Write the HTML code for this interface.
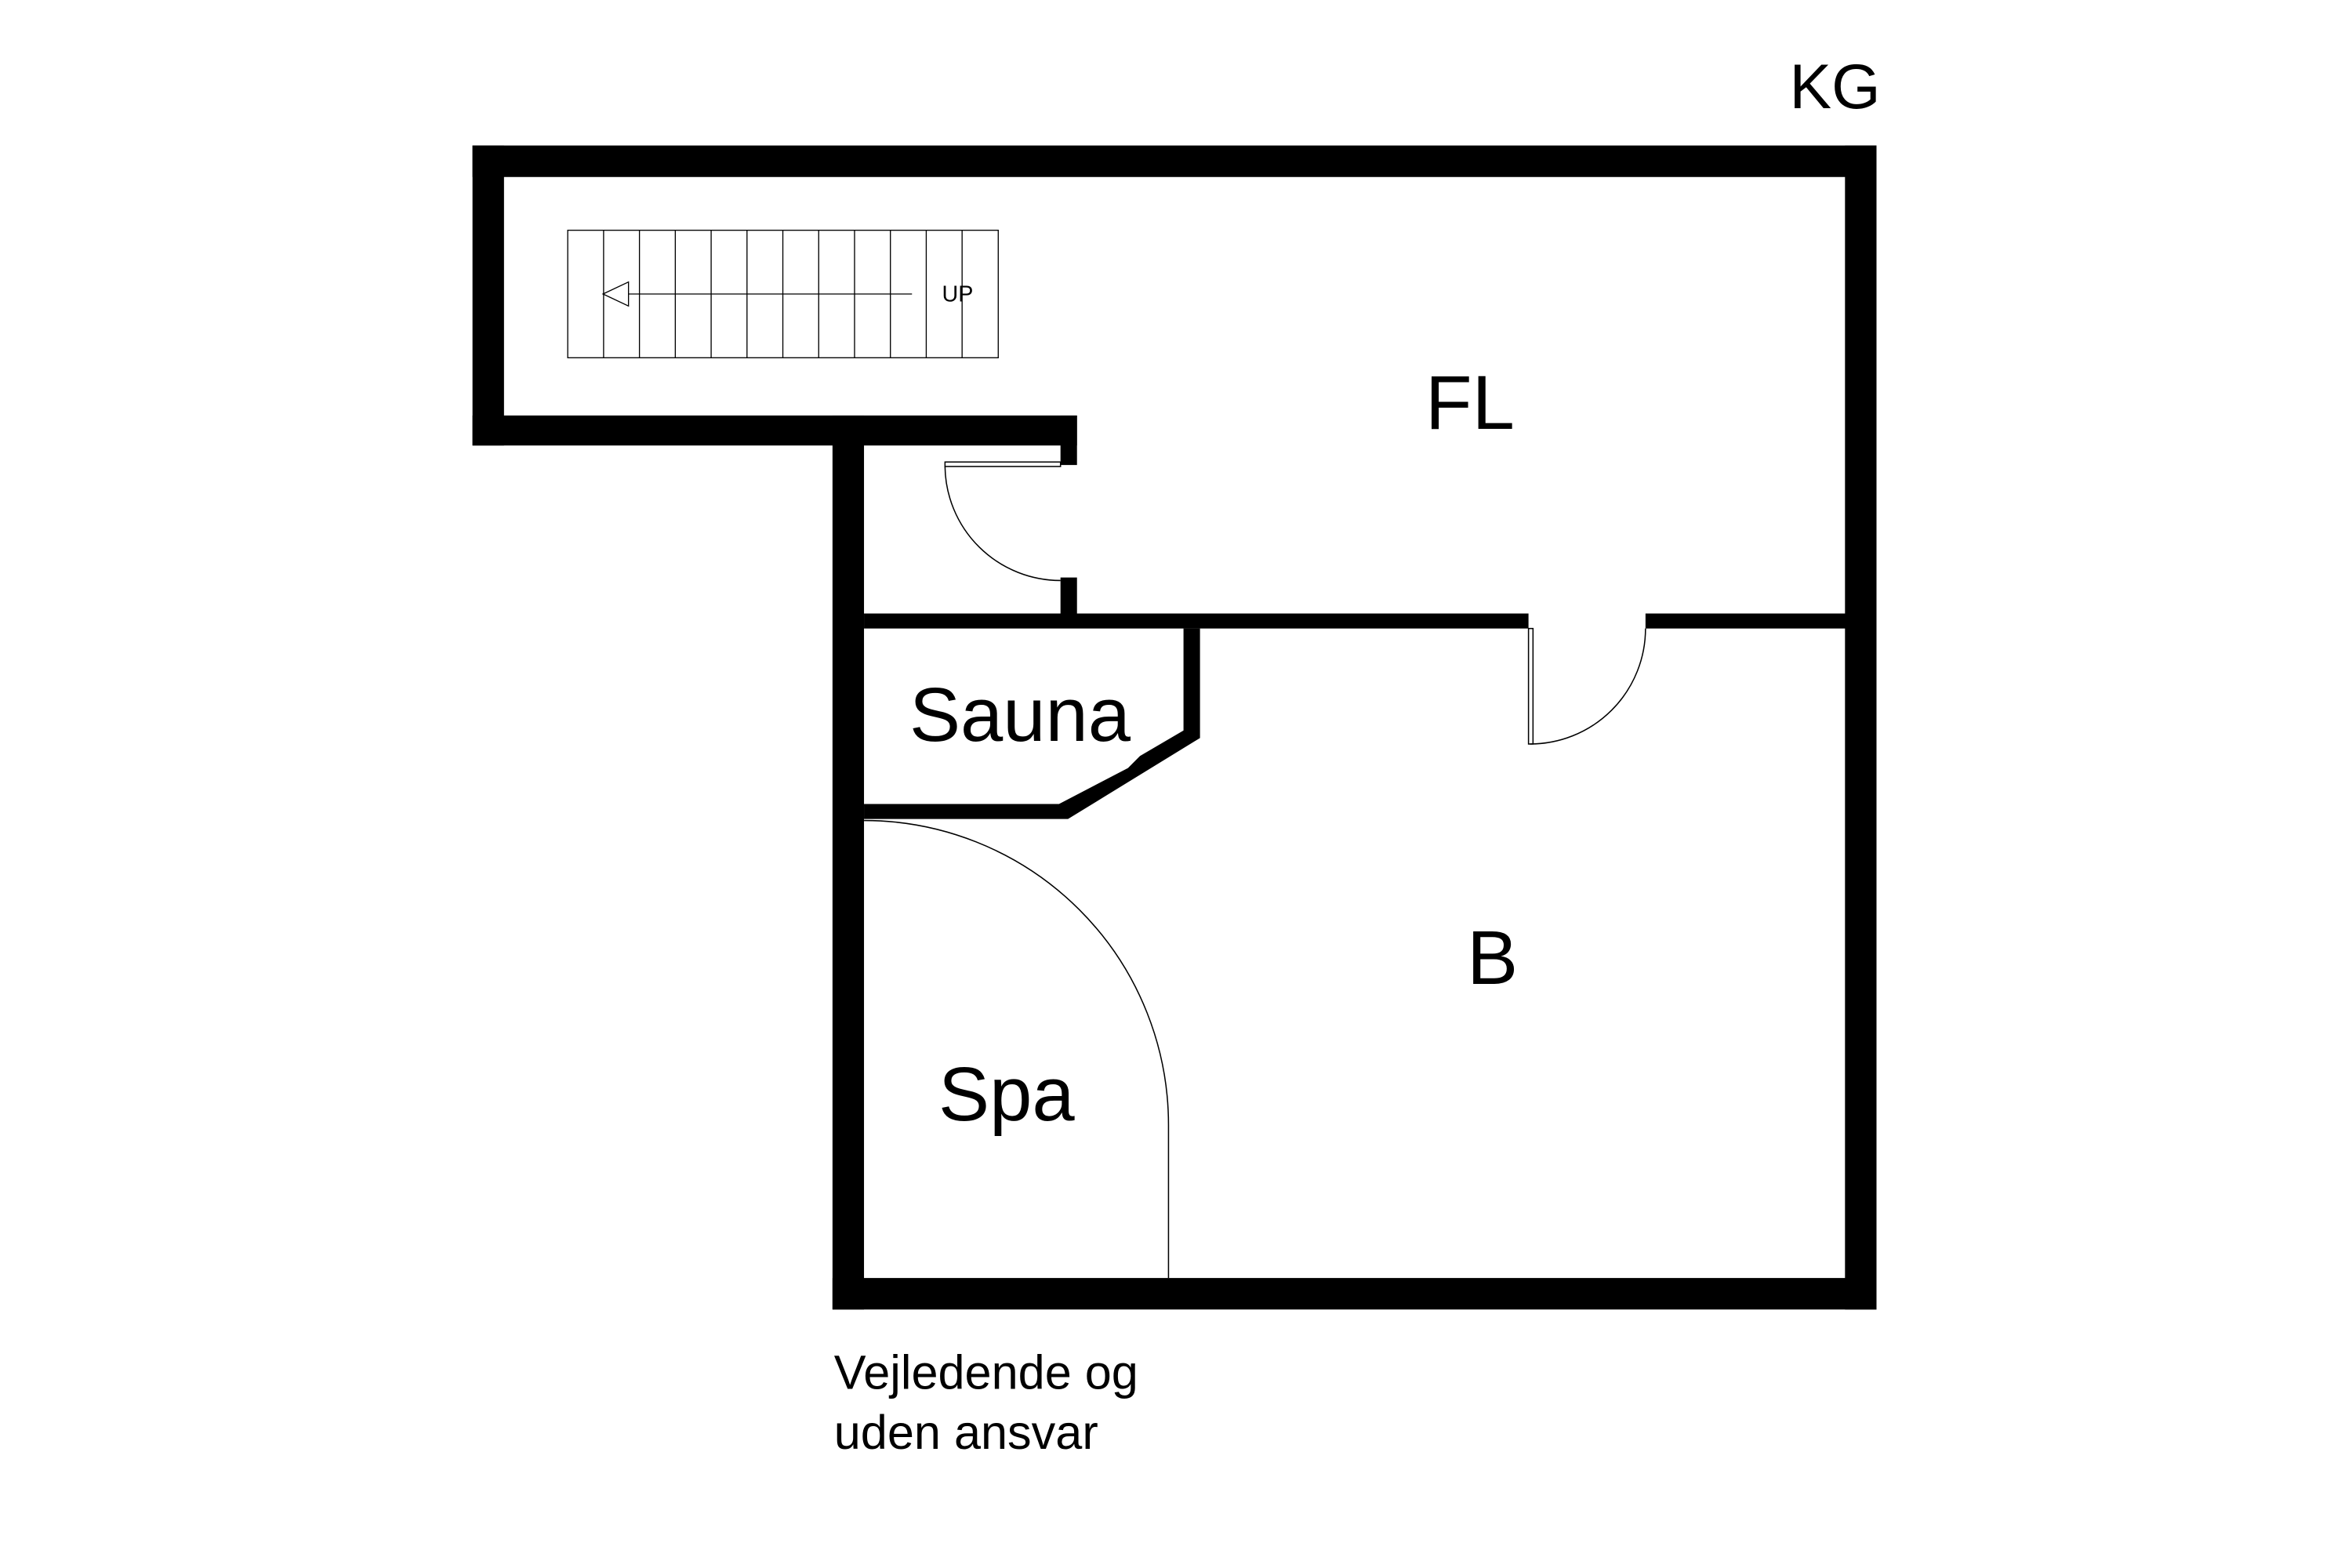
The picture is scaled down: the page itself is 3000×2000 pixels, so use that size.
<!DOCTYPE html>
<html><head><meta charset="utf-8"><style>html,body{margin:0;padding:0;background:#fff}svg{display:block}</style></head>
<body>
<svg width="3000" height="2000" viewBox="0 0 1568 1045.33" preserveAspectRatio="none" xmlns="http://www.w3.org/2000/svg" font-family="Liberation Sans, Arial, sans-serif">
<rect width="1568" height="1046" fill="#fff"/>
<g fill="#000">
<rect x="315" y="97" width="936" height="21"/>
<rect x="1230" y="97" width="21" height="776"/>
<rect x="555" y="852" width="696" height="21"/>
<rect x="315" y="97" width="21" height="200"/>
<rect x="315" y="277" width="403" height="20"/>
<rect x="555" y="277" width="21" height="596"/>
<rect x="707" y="277" width="11" height="33"/>
<rect x="707" y="385" width="11" height="30"/>
<rect x="576" y="409" width="443" height="10"/>
<rect x="1097" y="409" width="134" height="10"/>
<polygon points="789,419 800,419 800,492 712,546 576,546 576,536 706,536 752,512 760,504 789,487"/>
</g>
<g fill="none" stroke="#000" stroke-width="0.8">
<rect x="630" y="308" width="77" height="3"/>
<path d="M630,311 A77,77 0 0 0 707,387"/>
<rect x="1019" y="419" width="3" height="77"/>
<path d="M1097,419 A77,77 0 0 1 1020,496"/>
<path d="M576,547 A203,203 0 0 1 779,750 L779,852"/>
</g>
<g fill="none" stroke="#000" stroke-width="0.7">
<rect x="378.5" y="153.5" width="287" height="85"/>
<path d="M402.4,153.5V238.5M426.3,153.5V238.5M450.2,153.5V238.5M474.1,153.5V238.5M498,153.5V238.5M521.9,153.5V238.5M545.8,153.5V238.5M569.7,153.5V238.5M593.6,153.5V238.5M617.5,153.5V238.5M641.4,153.5V238.5"/>
<path d="M608,196H419"/>
<polygon points="402,196 419,188 419,204"/>
</g>
<g fill="#000">
<text x="628" y="201" font-size="15">UP</text>
<text x="1193" y="72" font-size="42">KG</text>
<text x="980" y="286" font-size="51" text-anchor="middle">FL</text>
<text x="680" y="494" font-size="51" text-anchor="middle">Sauna</text>
<text x="995" y="656" font-size="51" text-anchor="middle">B</text>
<text x="671" y="747" font-size="51" text-anchor="middle">Spa</text>
<text x="556" y="926" font-size="32">Vejledende og</text>
<text x="556" y="966" font-size="32">uden ansvar</text>
</g>
</svg>
</body></html>
